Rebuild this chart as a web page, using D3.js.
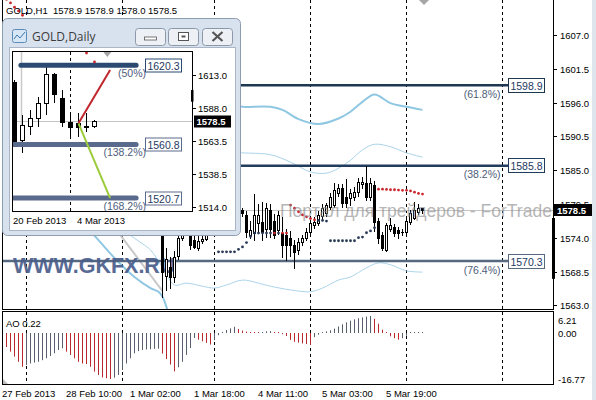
<!DOCTYPE html>
<html>
<head>
<meta charset="utf-8">
<script src="https://cdn.jsdelivr.net/npm/d3@7/dist/d3.min.js"></script>
<style>
  body { margin: 0; background: #fff; }
  svg { display: block; }
  text { font-family: "Liberation Sans", Arial, sans-serif; }
</style>
</head>
<body>
<svg id="chart" width="596" height="400"></svg>
<script>
// ---- GOLD H1 data (bar 0 = 27 Feb 18:00, 4px per bar) ----
const openP = [1601.5,1600.0,1597.0,1594.5,1595.5,1593.0,1591.5,1594.0,1595.5,1596.0,
  1595.5,1596.5,1597.0,1596.5,1597.5,1598.0,1596.5,1594.0,1592.0,1591.0,
  1589.0,1590.0,1588.5,1585.5,1582.0,1580.5,1581.0,1578.5,1579.5,1582.0,
  1583.5,1584.5,1585.0,1584.0,1584.5,1583.0,1584.0,1582.5,1583.0,1581.0,
  1578.0,1567.8,1569.3,1567.6,1571.1,1574.0,1576.5,1575.5,1573.6,1572.4,
  1573.5,1573.8,1575.5,1576.5,1577.5,1578.5,1579.5,1580.0,1579.0,1578.6,
  1578.5,1577.7,1574.5,1574.7,1576.4,1576.5,1575.5,1578.5,1576.8,1575.2,
  1574.7,1574.4,1573.9,1572.8,1572.0,1573.3,1574.0,1574.9,1576.0,1576.4,
  1577.5,1578.0,1579.0,1579.3,1581.3,1582.1,1580.6,1580.4,1580.6,1581.4,
  1582.8,1582.9,1580.6,1582.6,1576.8,1574.4,1572.0,1575.5,1575.7,1575.2,
  1574.9,1574.9,1576.5,1577.3,1578.2,1578.9];
const highP = [1603.0,1601.0,1598.0,1596.0,1596.5,1594.0,1594.5,1596.0,1597.0,1597.5,
  1597.0,1598.0,1598.5,1598.0,1599.0,1599.0,1597.0,1595.0,1593.5,1592.0,
  1591.0,1591.5,1589.0,1586.5,1583.5,1582.0,1582.5,1580.0,1582.5,1584.0,
  1585.5,1586.0,1586.5,1585.5,1585.5,1584.5,1585.0,1584.0,1584.0,1582.0,
  1578.5,1572.5,1571.0,1572.0,1575.5,1577.5,1579.0,1576.5,1575.0,1574.5,
  1575.0,1576.5,1577.5,1578.5,1579.5,1580.5,1581.5,1581.0,1580.0,1579.2,
  1579.0,1578.5,1576.8,1581.2,1579.6,1579.9,1579.8,1579.5,1578.0,1578.5,
  1577.5,1575.5,1575.2,1573.8,1574.0,1574.6,1575.6,1577.0,1577.4,1578.4,
  1579.5,1579.8,1581.4,1583.0,1582.8,1582.8,1583.7,1582.0,1582.4,1583.8,
  1584.0,1585.8,1583.8,1583.3,1577.3,1575.0,1576.5,1577.3,1576.3,1575.9,
  1575.5,1577.3,1578.6,1579.9,1579.6,1578.9];
const lowP = [1599.5,1596.5,1594.0,1592.5,1592.0,1590.5,1591.0,1593.0,1594.5,1595.0,
  1594.5,1595.5,1596.0,1595.5,1596.5,1596.0,1593.5,1591.5,1590.0,1588.5,
  1588.0,1588.0,1585.0,1581.5,1579.5,1578.5,1577.5,1576.5,1579.0,1581.0,
  1582.5,1583.0,1583.5,1582.5,1582.5,1581.5,1582.0,1581.0,1580.5,1577.5,
  1564.3,1565.4,1565.8,1566.8,1570.5,1573.5,1575.5,1572.1,1572.2,1572.0,
  1573.0,1573.5,1575.0,1576.0,1577.0,1578.0,1578.8,1578.2,1577.5,1577.0,
  1577.5,1574.1,1573.9,1573.6,1574.7,1573.6,1574.1,1574.0,1573.9,1574.5,
  1570.8,1570.3,1571.0,1569.0,1571.3,1572.8,1573.6,1574.3,1575.5,1576.0,
  1577.0,1577.5,1578.6,1578.9,1580.8,1579.0,1579.0,1579.3,1580.0,1580.8,
  1582.0,1580.0,1580.0,1575.0,1573.0,1572.0,1571.7,1575.0,1574.2,1573.9,
  1574.3,1574.5,1576.2,1576.9,1577.8,1578.0];
const closeP = [1600.0,1597.0,1594.5,1595.5,1593.0,1591.5,1594.0,1595.5,1596.0,1595.5,
  1596.5,1597.0,1596.5,1597.5,1598.0,1596.5,1594.0,1592.0,1591.0,1589.0,
  1590.0,1588.5,1585.5,1582.0,1580.5,1581.0,1578.5,1579.5,1582.0,1583.5,
  1584.5,1585.0,1584.0,1584.5,1583.0,1584.0,1582.5,1583.0,1581.0,1578.0,
  1568.5,1570.5,1567.6,1570.8,1573.9,1576.5,1577.5,1572.8,1572.5,1573.5,
  1573.8,1575.5,1576.5,1577.5,1578.5,1579.5,1580.0,1579.0,1578.6,1578.0,
  1578.0,1574.9,1575.2,1577.7,1577.7,1574.9,1578.8,1575.5,1574.4,1577.7,
  1572.8,1572.8,1572.8,1571.7,1573.3,1573.9,1574.9,1576.4,1576.5,1577.7,
  1578.8,1579.3,1580.6,1581.7,1582.1,1579.6,1579.6,1581.3,1581.4,1583.0,
  1583.0,1580.6,1582.9,1576.5,1573.9,1572.3,1576.0,1576.0,1574.7,1574.7,
  1574.9,1576.8,1578.0,1578.5,1578.8,1578.5];

// Awesome Oscillator, one value per bar
const aoValues = [-2.6,-5.1,-6.8,-8.6,-10.5,-12.3,
  -11.7,-11.1,-10.8,-10.5,-9.9,-9.2,-8.4,-7.4,-6.2,-5.6,
  -6.8,-8.0,-9.2,-10.5,-11.1,-11.3,-12.3,-14.1,-15.3,-16.2,-16.5,-16.77,
  -16.3,-15.3,-13.5,-11.1,-9.2,-7.4,-6.6,-6.2,-6.0,-5.9,-5.8,-5.7,
  -7.5,-9.5,-11.5,-14.0,
  -12.5,-10.5,-8.0,-5.5,-1.8,
  -2.4,-3.0,-3.6,-4.2,
  -2.6,-0.8,0.4,1.1,1.7,2.3,
  1.5,0.9,0.5,0.3,0.2,0.1,
  0.3,0.6,0.7,
  0.4,0.1,-0.4,-1.1,-2.5,-3.2,-3.5,-3.8,-4.0,-4.4,
  -1.5,-0.6,0.2,0.6,1.0,1.6,2.4,3.2,3.9,4.5,5.0,5.4,5.7,6.0,6.21,
  5.2,3.4,1.2,0.3,-1.2,-1.9,-2.4,
  -1.9,-1.0,0.05,0.12,0.18,0.22];

// Parabolic SAR (null where it sits behind the daily window)
const sarValues = [1613.4,1612.9,1612.3,1611.6,1611.0,1610.3,1609.6,
  ...Array(47).fill(null),
  1571.8,1571.8,1571.8,1571.8,1571.8,1572.2,1572.6,1573.3,1574.3,
  1574.85,1574.85,1574.85,1574.85,1574.85,1574.85,1574.85,1574.85,1574.85,
  1579.4,1578.9,1578.3,1577.8,1577.5,1577.2,1577.0,1576.9,1576.9,1576.8,
  1573.6,1573.6,1573.6,1573.6,1573.6,1573.6,1573.6,1574.1,1574.2,1574.9,1575.2,1575.7,
  1582.0,1582.0,1581.95,1581.9,1581.9,1581.85,1581.8,1581.8,1581.7,1581.5,1581.3,1581.2];

// Bollinger-style bands: [bar, price]
const bandUpperWide = [[58,1595.6],[60,1595.4],[67,1595.4],[70,1594.9],[74,1593.4],[79,1592.6],
  [84,1593.5],[87,1594.6],[90,1596.2],[93,1597.4],[97,1596.0],[101,1595.4],[105,1594.9]];
const bandUpperNarrow = [[58,1588.0],[60,1587.9],[67,1587.6],[72,1586.4],[77,1584.8],[81,1584.6],[84,1585.4],
  [87,1586.7],[90,1588.4],[93,1589.3],[97,1588.9],[101,1587.9],[105,1587.2]];
const bandLowerNarrow = [[30,1575.5],[33,1574.0],[35,1573.1],[37,1572.1],[40,1569.3],[43,1566.4],[46,1566.7],
  [50,1566.2],[53,1565.9],[56,1566.4],[60,1567.2],[64,1566.7],[67,1566.2],[72,1565.6],[77,1565.3],
  [80,1565.9],[84,1567.2],[87,1567.7],[91,1569.2],[94,1570.0],[97,1569.7],[101,1568.7],[105,1568.5]];
const bandLowerWide = [[20,1576.5],[24,1573.7],[28,1570.8],[33,1567.7],[37,1565.9],[39,1565.3],[40,1564.5],
  [41,1562.8],[42,1560.5]];
const grayTrend = [[20,1582.7],[40,1565.4]];

const fibLevels = [1598.9, 1585.8, 1570.3];
const fibNames = ["(61.8%)", "(38.2%)", "(76.4%)"];
const fibColors = ["#1d3850", "#213c5c", "#56697f"];
const fibEndBar = 126.5;

const priceTicks = [1607.0, 1601.5, 1596.0, 1590.5, 1585.0, 1579.5, 1574.0, 1568.5, 1563.0];
const aoTicks = [6.21, 0.00, -16.77];
const timeLabels = ["27 Feb 2013", "28 Feb 10:00", "1 Mar 02:00", "1 Mar 18:00", "4 Mar 11:00", "5 Mar 03:00", "5 Mar 19:00"];
const timeLabelBars = [0, 16, 32, 48, 64, 80, 96];
const daySeparatorBars = [6, 30, 53, 77, 101, 125];
const lastPrice = 1578.5;
const sideMarker = [1577.3, 1567.4];

// ---- GOLD Daily (inset window), bar 0 = 20 Feb 2013 ----
const dOpen = [1607.7, 1564.2, 1574.7, 1580.7, 1592.0, 1613.7, 1595.7, 1577.7, 1577.0, 1574.3, 1574.5];
const dHigh = [1609.0, 1583.0, 1586.7, 1596.5, 1620.3, 1614.5, 1601.7, 1583.0, 1584.5, 1584.5, 1579.0];
const dLow = [1560.0, 1554.5, 1568.0, 1574.0, 1583.0, 1592.0, 1574.0, 1565.7, 1566.5, 1570.0, 1573.0];
const dClose = [1562.7, 1575.5, 1580.7, 1592.0, 1613.7, 1598.7, 1577.7, 1574.0, 1574.0, 1574.0, 1578.5];
const dSar = [null, null, null, null, null, null, null, null, null, 1629.5, 1622.8];
const dTicks = [1613.0, 1588.0, 1563.5, 1538.5, 1514.0];
const dDateLabels = ["20 Feb 2013", "4 Mar 2013"];
const dDateBars = [0, 8];
const dFibLevels = [1620.3, 1560.8, 1520.7];
const dFibNames = ["(50%)", "(138.2%)", "(168.2%)"];
const dFibColors = ["#2b4a72", "#5a6a8c", "#5a6a8c"];
const dFibStart = [0.8, -2, -2];
const dFibEnd = 15.2;
const dRedLine = [[8, 1576.8], [11.95, 1616.8]];
const dGreenLine = [[8, 1576.8], [11.95, 1520.7]];
const dSideMarker = [1601.7, 1593.0];

// ---- setup ----
const svg = d3.select("#chart");

const x = d3.scaleLinear().domain([0, 100]).range([2.5, 402.5]);
const yMain = d3.scaleLinear().domain([1562.41, 1612.78]).range([309.5, 0]);
const yAO = d3.scaleLinear().domain([-16.77, 6.21]).range([379, 316]);

const defs = svg.append("defs");
defs.append("clipPath").attr("id", "mainClip").append("rect")
  .attr("x", 2).attr("y", 0).attr("width", 551).attr("height", 309.5);
defs.append("clipPath").attr("id", "aoClip").append("rect")
  .attr("x", 2).attr("y", 312).attr("width", 551).attr("height", 72);
defs.append("clipPath").attr("id", "insetClip").append("rect")
  .attr("x", 13).attr("y", 52).attr("width", 180).attr("height", 160);

svg.append("rect").attr("width", 596).attr("height", 400).attr("fill", "#fff");
svg.append("rect").attr("x", 592).attr("y", 0).attr("width", 4).attr("height", 400).attr("fill", "#dfe5ec");

const mainG = svg.append("g").attr("clip-path", "url(#mainClip)");
const aoG = svg.append("g").attr("clip-path", "url(#aoClip)");

function crisp(v) { return Math.round(v - 0.5) + 0.5; }

// day separators
daySeparatorBars.forEach(function(b) {
  [[mainG, 0, 309.5], [aoG, 312, 384]].forEach(function(p) {
    p[0].append("line")
      .attr("x1", x(b)).attr("x2", x(b))
      .attr("y1", p[1]).attr("y2", p[2])
      .attr("stroke", "#000").attr("stroke-dasharray", "3,3");
  });
});

// bid line
mainG.append("line")
  .attr("x1", 2).attr("x2", 553)
  .attr("y1", crisp(yMain(lastPrice))).attr("y2", crisp(yMain(lastPrice)))
  .attr("stroke", "#c4c4c4");

// bands
const bandLine = d3.line().x(d => x(d[0])).y(d => yMain(d[1])).curve(d3.curveCatmullRom);
[[bandUpperWide, 2, "#8fc7e3"], [bandLowerWide, 2, "#8fc7e3"],
 [bandUpperNarrow, 1, "#a9d3ea"], [bandLowerNarrow, 1, "#a9d3ea"]].forEach(function(b) {
  mainG.append("path").attr("d", bandLine(b[0]))
    .attr("fill", "none").attr("stroke", b[2]).attr("stroke-width", b[1]);
});
mainG.append("path").attr("d", d3.line().x(d => x(d[0])).y(d => yMain(d[1]))(grayTrend))
  .attr("fill", "none").attr("stroke", "#c9c9c9").attr("stroke-width", 2);

// fib lines
fibLevels.forEach(function(v, k) {
  mainG.append("line")
    .attr("x1", 2).attr("x2", x(fibEndBar))
    .attr("y1", yMain(v)).attr("y2", yMain(v))
    .attr("stroke", fibColors[k]).attr("stroke-width", 2.6);
});

// watermark GKFX
mainG.append("text")
  .attr("x", 13).attr("y", 273)
  .style("font-size", "21.5px").style("font-weight", "bold")
  .attr("fill", "#4a5e8c").attr("opacity", 0.92)
  .text("WWW.GKFX.RU");

function drawCandles(g, xs, ys, o, h, l, c, halfW) {
  for (let i = 0; i < o.length; i++) {
    if (o[i] == null) continue;
    const cx = xs(i);
    g.append("line")
      .attr("x1", cx).attr("x2", cx)
      .attr("y1", Math.round(ys(h[i]))).attr("y2", Math.round(ys(l[i])))
      .attr("stroke", "#000");
    const top = crisp(ys(Math.max(o[i], c[i])));
    const bot = crisp(ys(Math.min(o[i], c[i])));
    if (top === bot) {
      g.append("line").attr("x1", cx - halfW - 0.5).attr("x2", cx + halfW + 0.5)
        .attr("y1", top).attr("y2", top).attr("stroke", "#000");
    } else {
      g.append("rect")
        .attr("x", cx - halfW).attr("y", top)
        .attr("width", halfW * 2).attr("height", bot - top)
        .attr("fill", c[i] >= o[i] ? "#fff" : "#000")
        .attr("stroke", "#000");
    }
  }
}
drawCandles(mainG, x, yMain, openP, highP, lowP, closeP, 1);

// parabolic SAR
sarValues.forEach(function(v, i) {
  if (v == null) return;
  mainG.append("circle")
    .attr("cx", x(i)).attr("cy", yMain(v)).attr("r", 1.4)
    .attr("fill", v > closeP[i] ? "#c8282e" : "#2a3b57");
});

// watermark ForTrader
mainG.append("text")
  .attr("x", 280).attr("y", 217)
  .style("font-size", "17.5px")
  .attr("fill", "#8a8a8a").attr("opacity", 0.62)
  .text("Портал для трейдеров - ForTrader.ru");

// fib labels
fibLevels.forEach(function(v, k) {
  const yy = crisp(yMain(v));
  mainG.append("text")
    .attr("x", x(fibEndBar) - 8).attr("y", yy + 12)
    .attr("text-anchor", "end")
    .style("font-size", "10.5px").attr("fill", "#4e5e78")
    .text(fibNames[k]);
  svg.append("rect")
    .attr("x", crisp(x(fibEndBar))).attr("y", yy - 7)
    .attr("width", 36).attr("height", 14)
    .attr("fill", "#fff").attr("stroke", fibColors[k]);
  svg.append("text")
    .attr("x", crisp(x(fibEndBar)) + 18).attr("y", yy + 4)
    .attr("text-anchor", "middle")
    .style("font-size", "10.5px").attr("fill", "#1f3a5f")
    .text(v.toFixed(1));
});

// panel borders
svg.append("line").attr("x1", 2.5).attr("x2", 2.5).attr("y1", 0).attr("y2", 309.5).attr("stroke", "#000");
svg.append("line").attr("x1", 553.5).attr("x2", 553.5).attr("y1", 0).attr("y2", 309.5).attr("stroke", "#000");
svg.append("line").attr("x1", 2).attr("x2", 554).attr("y1", 309.5).attr("y2", 309.5).attr("stroke", "#000");
svg.append("rect").attr("x", 2.5).attr("y", 311.5).attr("width", 551).attr("height", 73)
  .attr("fill", "none").attr("stroke", "#000");

// price axis
priceTicks.forEach(function(v) {
  const yy = crisp(yMain(v));
  svg.append("line").attr("x1", 554).attr("x2", 557).attr("y1", yy).attr("y2", yy).attr("stroke", "#000");
  svg.append("text").attr("x", 560).attr("y", yy + 3.5)
    .style("font-size", "9.5px").attr("fill", "#000").text(v.toFixed(1));
});
svg.append("rect")
  .attr("x", 552).attr("y", yMain(sideMarker[0]))
  .attr("width", 3).attr("height", yMain(sideMarker[1]) - yMain(sideMarker[0]))
  .attr("fill", "#000");
svg.append("rect")
  .attr("x", 554).attr("y", crisp(yMain(lastPrice)) - 6.5)
  .attr("width", 38).attr("height", 12).attr("fill", "#000");
svg.append("text").attr("x", 557).attr("y", crisp(yMain(lastPrice)) + 3.5)
  .style("font-size", "9.5px").style("font-weight", "bold").attr("fill", "#fff")
  .text(lastPrice.toFixed(1));

// AO histogram
aoValues.forEach(function(v, i) {
  const up = i === 0 ? false : v > aoValues[i - 1];
  const y0 = yAO(0), y1 = yAO(v);
  aoG.append("line")
    .attr("x1", x(i)).attr("x2", x(i))
    .attr("y1", y0).attr("y2", Math.abs(y1 - y0) < 1 ? y0 + (v < 0 ? 1 : -1) : y1)
    .attr("stroke", up ? "#56606e" : "#b8282d");
});
svg.append("text").attr("x", 6).attr("y", 326.5)
  .style("font-size", "9.5px").attr("fill", "#000")
  .text("AO " + aoValues[aoValues.length - 1].toFixed(2));
aoTicks.forEach(function(v) {
  const yy = Math.min(Math.max(yAO(v), 320), 379);
  svg.append("text").attr("x", 558).attr("y", yy + 3.5)
    .style("font-size", "9.5px").attr("fill", "#000").text(v.toFixed(2));
});
svg.append("path").attr("d", "M3,384 L3,379 L8,384 Z").attr("fill", "#bdbdbd");

// time axis
timeLabels.forEach(function(t, k) {
  svg.append("text").attr("x", x(timeLabelBars[k]) - 0.5).attr("y", 397)
    .style("font-size", "9.5px").attr("fill", "#000").text(t);
});

// title
svg.append("text").attr("x", 6).attr("y", 14)
  .style("font-size", "9.5px").style("white-space", "pre").attr("fill", "#000")
  .text("GOLD,H1  1578.9 1578.9 1578.0 1578.5");

// chart shift marker
const shiftX = x(aoValues.length - 1) + 1.5;
svg.append("path")
  .attr("d", "M" + (shiftX - 5) + ",0 L" + (shiftX + 5) + ",0 L" + shiftX + ",5 Z")
  .attr("fill", "#a6a6a6");

// ---- inset daily window ----
const win = svg.append("g");
win.append("rect").attr("x", 2.5).attr("y", 18.5).attr("width", 238).attr("height", 217).attr("rx", 5)
  .attr("fill", "#d8e2ee").attr("stroke", "#8e9db0");
win.append("rect").attr("x", 9.5).attr("y", 47.5).attr("width", 226).attr("height", 183)
  .attr("fill", "#fff").attr("stroke", "#aab6c5");

// title bar
win.append("rect").attr("x", 12.5).attr("y", 29.5).attr("width", 14).attr("height", 13).attr("rx", 2)
  .attr("fill", "#d6e6f4").attr("stroke", "#5b8bb8");
win.append("path").attr("d", "M14,39 L17,35 L20,38 L25,32").attr("fill", "none").attr("stroke", "#3a78b0");
win.append("text").attr("x", 32).attr("y", 41)
  .style("font-family", '"Open Sans", "Noto Sans", sans-serif').style("font-size", "12px")
  .attr("fill", "#3c3c3c").text("GOLD,Daily");
[135.5, 168.5, 202.5].forEach(function(bx, k) {
  win.append("rect").attr("x", bx).attr("y", 28.5).attr("width", 30).attr("height", 17).attr("rx", 3)
    .attr("fill", "#edf1f6").attr("stroke", "#8a98a9");
  const cx = bx + 15;
  if (k === 0) {
    win.append("rect").attr("x", cx - 6).attr("y", 37).attr("width", 12).attr("height", 3)
      .attr("fill", "#fff").attr("stroke", "#555").attr("stroke-width", 0.8);
  } else if (k === 1) {
    win.append("rect").attr("x", cx - 5).attr("y", 32.5).attr("width", 10).attr("height", 8)
      .attr("fill", "#fff").attr("stroke", "#555");
    win.append("rect").attr("x", cx - 2).attr("y", 35.5).attr("width", 4).attr("height", 2).attr("fill", "#555");
  } else {
    win.append("path").attr("d", "M" + (cx - 5) + ",32 L" + (cx + 5) + ",41 M" + (cx + 5) + ",32 L" + (cx - 5) + ",41")
      .attr("stroke", "#555").attr("stroke-width", 2.2);
  }
});

const xI = d3.scaleLinear().domain([0, 10]).range([14.5, 94.5]);
const yI = d3.scaleLinear().domain([1514, 1613]).range([207, 75]);
const inset = win.append("g").attr("clip-path", "url(#insetClip)");

inset.append("line").attr("x1", xI(7)).attr("x2", xI(7)).attr("y1", 52).attr("y2", 212)
  .attr("stroke", "#000").attr("stroke-dasharray", "3,3");
inset.append("line").attr("x1", 13).attr("x2", 193)
  .attr("y1", crisp(yI(lastPrice))).attr("y2", crisp(yI(lastPrice))).attr("stroke", "#c4c4c4");
inset.append("line").attr("x1", xI(1) - 1).attr("x2", xI(1) - 1).attr("y1", 52).attr("y2", yI(1562))
  .attr("stroke", "#c9c9c9").attr("stroke-width", 1.5);

drawCandles(inset, xI, yI, dOpen, dHigh, dLow, dClose, 2);

dFibLevels.forEach(function(v, k) {
  inset.append("line")
    .attr("x1", xI(dFibStart[k])).attr("x2", xI(dFibEnd))
    .attr("y1", yI(v)).attr("y2", yI(v))
    .attr("stroke", dFibColors[k]).attr("stroke-width", 5).attr("stroke-linecap", "round");
});
const lineI = d3.line().x(d => xI(d[0])).y(d => yI(d[1]));
inset.append("path").attr("d", lineI(dRedLine)).attr("stroke", "#c0262c").attr("stroke-width", 2).attr("fill", "none");
inset.append("path").attr("d", lineI(dGreenLine)).attr("stroke", "#9ccc3a").attr("stroke-width", 2).attr("fill", "none");
dSar.forEach(function(v, i) {
  if (v == null) return;
  inset.append("circle").attr("cx", xI(i)).attr("cy", yI(v)).attr("r", 1.4)
    .attr("fill", v > dClose[i] ? "#c8282e" : "#2a3b57");
});
const dShift = xI(11.6);
inset.append("path").attr("d", "M" + (dShift - 4) + ",52 L" + (dShift + 4) + ",52 L" + dShift + ",57 Z")
  .attr("fill", "#a6a6a6");

dFibLevels.forEach(function(v, k) {
  const yy = crisp(yI(v));
  win.append("text").attr("x", 146).attr("y", yy + 11).attr("text-anchor", "end")
    .style("font-size", "10.5px").attr("fill", "#4e5d7c").text(dFibNames[k]);
  win.append("rect").attr("x", 145.5).attr("y", yy - 6.5).attr("width", 36).attr("height", 13)
    .attr("fill", "#fff").attr("stroke", dFibColors[k]);
  win.append("text").attr("x", 163.5).attr("y", yy + 4).attr("text-anchor", "middle")
    .style("font-size", "10.5px").attr("fill", "#1f3a5f").text(v.toFixed(1));
});

win.append("rect").attr("x", 12.5).attr("y", 51.5).attr("width", 180).attr("height", 160)
  .attr("fill", "none").attr("stroke", "#000");
dTicks.forEach(function(v) {
  const yy = crisp(yI(v));
  win.append("line").attr("x1", 193).attr("x2", 196).attr("y1", yy).attr("y2", yy).attr("stroke", "#000");
  win.append("text").attr("x", 198).attr("y", yy + 3.5)
    .style("font-size", "9.5px").attr("fill", "#000").text(v.toFixed(1));
});
win.append("rect").attr("x", 191).attr("y", yI(dSideMarker[0]))
  .attr("width", 2.5).attr("height", yI(dSideMarker[1]) - yI(dSideMarker[0])).attr("fill", "#000");
win.append("rect").attr("x", 194).attr("y", crisp(yI(lastPrice)) - 6)
  .attr("width", 37).attr("height", 12).attr("fill", "#000");
win.append("text").attr("x", 196.5).attr("y", crisp(yI(lastPrice)) + 3.5)
  .style("font-size", "9.5px").style("font-weight", "bold").attr("fill", "#fff").text(lastPrice.toFixed(1));
dDateLabels.forEach(function(t, k) {
  win.append("text").attr("x", xI(dDateBars[k]) - 1.5).attr("y", 223.5)
    .style("font-size", "9.5px").attr("fill", "#000").text(t);
});
</script>
</body>
</html>
